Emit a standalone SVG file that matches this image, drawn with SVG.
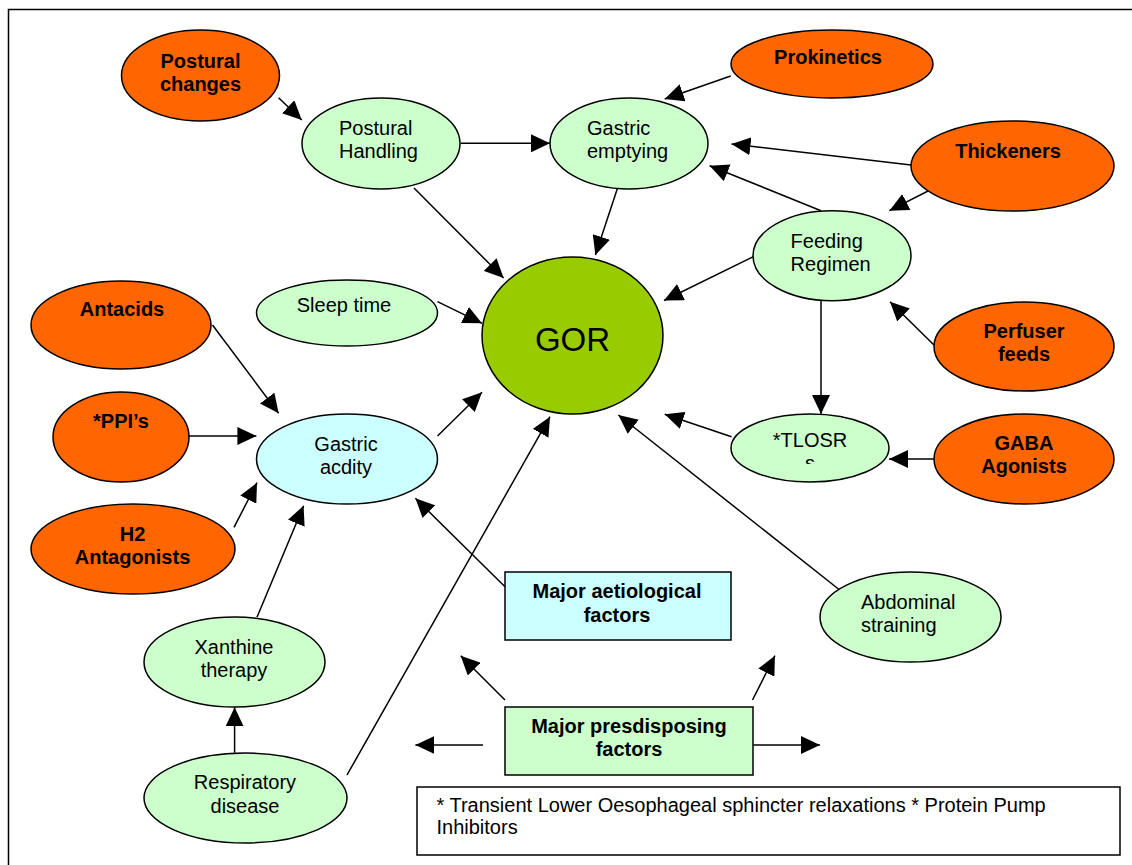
<svg xmlns="http://www.w3.org/2000/svg" width="1132" height="865" viewBox="0 0 1132 865">
<style>
  text { font-family: "Liberation Sans", Arial, sans-serif; font-size: 20px; fill: #000; }
  .b { font-weight: bold; }
  .c { text-anchor: middle; }
  .or { fill: #FF6600; stroke: #000; stroke-width: 1.5; }
  .gr { fill: #CCFFCC; stroke: #000; stroke-width: 1.5; }
  .cy { fill: #CCFFFF; stroke: #000; stroke-width: 1.5; }
  .gor { fill: #99CC00; stroke: #000; stroke-width: 1.5; }
  .ln { stroke: #000; stroke-width: 1.5; fill: none; marker-end: url(#ah); }
</style>
<defs>
  <marker id="ah" markerUnits="userSpaceOnUse" markerWidth="19" markerHeight="18" refX="19" refY="9" orient="auto" viewBox="0 0 19 18">
    <path d="M0,0 L19,9 L0,18 z" fill="#000"/>
  </marker>
  <clipPath id="tlclip"><rect x="731" y="414" width="158" height="50"/></clipPath>
</defs>
<rect width="1132" height="865" fill="#fff"/>
<path d="M8.5,866 V9.5 H1133" fill="none" stroke="#000" stroke-width="1.5"/>

<g id="connectors">
  <line class="ln" x1="278.6" y1="97.7" x2="301.8" y2="120"/>
  <line class="ln" x1="460.7" y1="143.3" x2="550" y2="143.3"/>
  <line class="ln" x1="414" y1="188" x2="503.6" y2="278"/>
  <line class="ln" x1="730.7" y1="76" x2="664.7" y2="99"/>
  <line class="ln" x1="911" y1="165" x2="731.5" y2="144"/>
  <line class="ln" x1="821" y1="210.7" x2="709.6" y2="165.7"/>
  <line class="ln" x1="934" y1="188" x2="889.4" y2="210.7"/>
  <line class="ln" x1="617.3" y1="188.7" x2="595.4" y2="255"/>
  <line class="ln" x1="753.4" y1="256.7" x2="664" y2="300.5"/>
  <line class="ln" x1="437.5" y1="301.7" x2="482" y2="323.3"/>
  <line class="ln" x1="212.5" y1="325" x2="278.6" y2="413.3"/>
  <line class="ln" x1="189" y1="436" x2="256.4" y2="436"/>
  <line class="ln" x1="234" y1="527.3" x2="257" y2="482.7"/>
  <line class="ln" x1="437.5" y1="436" x2="482" y2="392.3"/>
  <line class="ln" x1="257" y1="617.3" x2="303.6" y2="505.7"/>
  <line class="ln" x1="347" y1="775" x2="550" y2="416.7"/>
  <line class="ln" x1="234.6" y1="752.7" x2="234.6" y2="707.3"/>
  <line class="ln" x1="505" y1="586.7" x2="415.4" y2="498.3"/>
  <line class="ln" x1="731.5" y1="436.7" x2="664.7" y2="414.3"/>
  <line class="ln" x1="821" y1="300.7" x2="821" y2="414"/>
  <line class="ln" x1="934" y1="345" x2="890" y2="301.7"/>
  <line class="ln" x1="934" y1="459" x2="889" y2="459"/>
  <line class="ln" x1="843.5" y1="593" x2="618.4" y2="415"/>
  <line class="ln" x1="505" y1="700" x2="460.7" y2="655.7"/>
  <line class="ln" x1="752.5" y1="700" x2="774.9" y2="655.7"/>
  <line class="ln" x1="483" y1="745" x2="415.4" y2="745"/>
  <line class="ln" x1="753.4" y1="745" x2="820" y2="745"/>
</g>

<g id="postural-changes">
  <ellipse class="or" cx="200.5" cy="75.5" rx="79" ry="45.5"/>
  <text class="b c" x="200.5" y="68">Postural</text>
  <text class="b c" x="200.5" y="91">changes</text>
</g>
<g id="postural-handling">
  <ellipse class="gr" cx="381" cy="143.5" rx="79" ry="45.5"/>
  <text x="339" y="135">Postural</text>
  <text x="339" y="158">Handling</text>
</g>
<g id="gastric-emptying">
  <ellipse class="gr" cx="629" cy="143.5" rx="79" ry="45.5"/>
  <text x="587" y="135">Gastric</text>
  <text x="587" y="158">emptying</text>
</g>
<g id="prokinetics">
  <ellipse class="or" cx="832" cy="64" rx="101" ry="34"/>
  <text class="b c" x="828" y="64">Prokinetics</text>
</g>
<g id="thickeners">
  <ellipse class="or" cx="1012.5" cy="166" rx="101.5" ry="45"/>
  <text class="b c" x="1008" y="158">Thickeners</text>
</g>
<g id="feeding-regimen">
  <ellipse class="gr" cx="832" cy="255.7" rx="79" ry="45"/>
  <text x="790.6" y="248">Feeding</text>
  <text x="790.6" y="271">Regimen</text>
</g>
<g id="gor">
  <ellipse class="gor" cx="572.5" cy="335.5" rx="90.5" ry="78.5"/>
  <text class="c" x="572.5" y="350.5" style="font-size:33px">GOR</text>
</g>
<g id="antacids">
  <ellipse class="or" cx="121" cy="325" rx="90" ry="44"/>
  <text class="b c" x="122" y="316">Antacids</text>
</g>
<g id="sleep-time">
  <ellipse class="gr" cx="347" cy="313" rx="90.5" ry="33"/>
  <text class="c" x="344" y="312">Sleep time</text>
</g>
<g id="ppis">
  <ellipse class="or" cx="121" cy="437" rx="68" ry="45"/>
  <text class="b c" x="121" y="428">*PPI’s</text>
</g>
<g id="gastric-acidity">
  <ellipse class="cy" cx="347" cy="459" rx="90.5" ry="45"/>
  <text class="c" x="346" y="451">Gastric</text>
  <text class="c" x="346" y="474">acdity</text>
</g>
<g id="h2-antagonists">
  <ellipse class="or" cx="133" cy="549" rx="102" ry="45"/>
  <text class="b c" x="132.5" y="541">H2</text>
  <text class="b c" x="132.5" y="564">Antagonists</text>
</g>
<g id="perfuser-feeds">
  <ellipse class="or" cx="1024" cy="346.5" rx="90" ry="44.5"/>
  <text class="b c" x="1024" y="338">Perfuser</text>
  <text class="b c" x="1024" y="361">feeds</text>
</g>
<g id="tlosrs">
  <ellipse class="gr" cx="810" cy="448" rx="79" ry="34"/>
  <g clip-path="url(#tlclip)">
    <text class="c" x="810" y="447">*TLOSR</text>
    <text class="c" x="810" y="470">s</text>
  </g>
</g>
<g id="gaba-agonists">
  <ellipse class="or" cx="1024" cy="459" rx="90" ry="45"/>
  <text class="b c" x="1024" y="450">GABA</text>
  <text class="b c" x="1024" y="473">Agonists</text>
</g>
<g id="xanthine-therapy">
  <ellipse class="gr" cx="234.5" cy="662" rx="90.5" ry="45"/>
  <text class="c" x="234" y="654">Xanthine</text>
  <text class="c" x="234" y="677">therapy</text>
</g>
<g id="respiratory-disease">
  <ellipse class="gr" cx="245.5" cy="798" rx="101.5" ry="45"/>
  <text class="c" x="245" y="789">Respiratory</text>
  <text class="c" x="245" y="813">disease</text>
</g>
<g id="abdominal-straining">
  <ellipse class="gr" cx="910.5" cy="617" rx="90.5" ry="45"/>
  <text x="861" y="609">Abdominal</text>
  <text x="861" y="632">straining</text>
</g>
<g id="major-aetiological">
  <rect class="cy" x="505" y="572" width="226" height="68"/>
  <text class="b c" x="617" y="598">Major aetiological</text>
  <text class="b c" x="617" y="622">factors</text>
</g>
<g id="major-predisposing">
  <rect class="gr" x="505" y="707" width="248" height="68"/>
  <text class="b c" x="629" y="733">Major presdisposing</text>
  <text class="b c" x="629" y="756">factors</text>
</g>
<g id="footnote">
  <rect x="417" y="787" width="703" height="68" fill="#fff" stroke="#000" stroke-width="1.5"/>
  <text x="436.5" y="812">* Transient Lower Oesophageal sphincter relaxations * Protein Pump</text>
  <text x="436.5" y="834">Inhibitors</text>
</g>
</svg>
